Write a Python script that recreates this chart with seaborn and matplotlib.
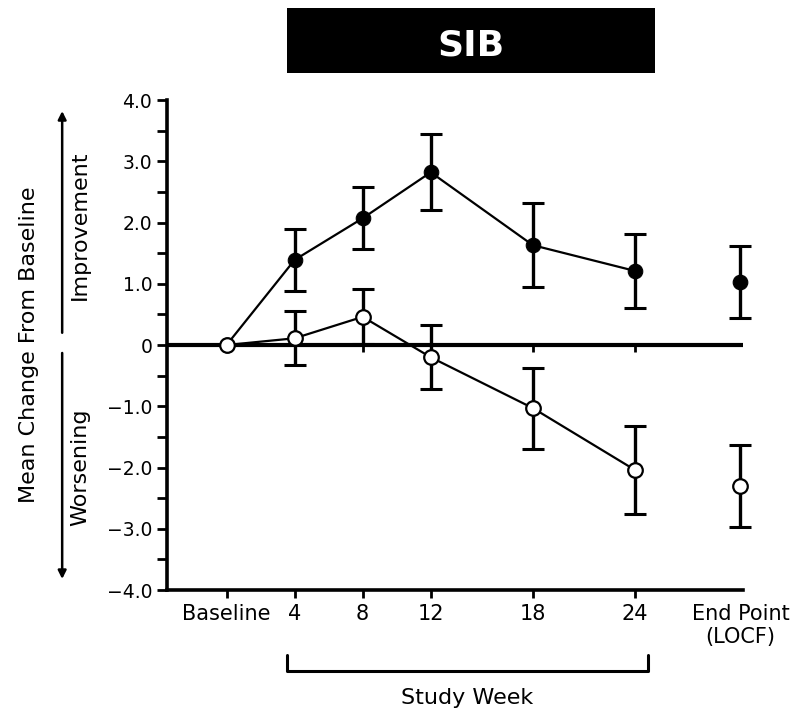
import matplotlib
matplotlib.use("Agg")
import matplotlib.pyplot as plt
import matplotlib.patches as mpatches
import matplotlib.transforms as mtransforms
import seaborn as sns
import pandas as pd

# ---- data -------------------------------------------------------------
weeks = [0, 4, 8, 12, 18, 24]
week_labels = ["Baseline", "4", "8", "12", "18", "24"]
endpoint_label = "End Point\n(LOCF)"

active_mean = [0.0, 1.39, 2.07, 2.82, 1.63, 1.21]
active_sem = [0.0, 0.51, 0.51, 0.62, 0.69, 0.60]
placebo_mean = [0.0, 0.11, 0.46, -0.20, -1.03, -2.04]
placebo_sem = [0.0, 0.44, 0.45, 0.52, 0.66, 0.72]

active_end_mean, active_end_sem = 1.03, 0.59
placebo_end_mean, placebo_end_sem = -2.30, 0.67

y_ticks = [4, 3, 2, 1, 0, -1, -2, -3, -4]
y_tick_labels = ["4.0", "3.0", "2.0", "1.0", "0", "\u22121.0", "\u22122.0", "\u22123.0", "\u22124.0"]

# ---- layout / style -----------------------------------------------------
endpoint_pos = 30.2
sns.set_theme(style="ticks")
plt.rcParams["font.family"] = ["DejaVu Sans"]

fig = plt.figure(figsize=(7.96, 7.13), dpi=100)
ax = fig.add_axes([0.2098, 0.1725, 0.7236, 0.6872])

df = pd.DataFrame({
    "week": weeks * 2,
    "mean": active_mean + placebo_mean,
    "sem": active_sem + placebo_sem,
    "group": ["active"] * len(weeks) + ["placebo"] * len(weeks),
})
act = df[df.group == "active"]
pla = df[df.group == "placebo"]

# error bars (baseline has none)
for part, end_m, end_s in [(act, active_end_mean, active_end_sem),
                           (pla, placebo_end_mean, placebo_end_sem)]:
    sub = part[part.week > 0]
    xs = list(sub.week) + [endpoint_pos]
    ys = list(sub["mean"]) + [end_m]
    es = list(sub["sem"]) + [end_s]
    eb = ax.errorbar(xs, ys, yerr=es, fmt="none", ecolor="black",
                     elinewidth=2.4, capsize=8, capthick=2.2, zorder=3)
    for artist in eb.get_children():
        artist.set_clip_on(False)

# connected series
sns.lineplot(data=act, x="week", y="mean", ax=ax, color="black", lw=1.6,
             marker="o", markersize=10.5, markerfacecolor="black",
             markeredgecolor="black", errorbar=None, zorder=5)
sns.lineplot(data=pla, x="week", y="mean", ax=ax, color="black", lw=1.6,
             marker="o", markersize=10.5, markerfacecolor="white",
             markeredgecolor="black", markeredgewidth=1.6,
             errorbar=None, zorder=6)

# end point (last observation carried forward), not connected
n_before = len(ax.collections)
sns.scatterplot(x=[endpoint_pos], y=[active_end_mean], ax=ax, s=110,
                color="black", edgecolor="black", zorder=5)
sns.scatterplot(x=[endpoint_pos], y=[placebo_end_mean], ax=ax, s=110,
                color="white", edgecolor="black", linewidth=1.6, zorder=6)
for coll in ax.collections[n_before:]:
    coll.set_clip_on(False)

# zero reference line with downward ticks at each visit
ax.axhline(0, color="black", lw=3, zorder=2)
ax.vlines(weeks, -0.12, 0, color="black", lw=2, zorder=2)

# axes
ax.set_xlim(-3.5, 30.35)
ax.set_ylim(-4, 4)
sns.despine(ax=ax)
for side in ("left", "bottom"):
    ax.spines[side].set_linewidth(2.6)
    ax.spines[side].set_color("black")

ax.set_yticks(y_ticks)
ax.set_yticklabels(y_tick_labels, fontsize=13.5)
ax.set_yticks([v + 0.5 for v in y_ticks[1:]], minor=True)
ax.tick_params(axis="y", which="both", length=7.2, width=2, color="black",
               pad=3.5, labelcolor="black")

ax.set_xticks(weeks + [endpoint_pos])
ax.set_xticklabels(week_labels + [endpoint_label], fontsize=15)
ax.tick_params(axis="x", length=6, width=2, color="black", pad=4,
               labelcolor="black")
ax.xaxis.get_major_ticks()[-1].tick1line.set_visible(False)

# y axis title with direction arrows
ax.set_ylabel("Mean Change From Baseline", fontsize=16, color="black")
ax.yaxis.set_label_coords(-0.222, 0.5)

blend = mtransforms.blended_transform_factory(ax.transAxes, ax.transData)
arrow_x = -0.182
for start, end in [(0.2, 3.82), (-0.13, -3.82)]:
    ax.annotate("", xy=(arrow_x, end), xytext=(arrow_x, start),
                xycoords=blend, textcoords=blend, annotation_clip=False,
                arrowprops=dict(arrowstyle="-|>", lw=1.8, color="black",
                                mutation_scale=12, shrinkA=0, shrinkB=0))
ax.text(-0.151, 1.96, "Improvement", transform=blend, rotation=90,
        ha="center", va="center", fontsize=16, color="black")
ax.text(-0.151, -2.0, "Worsening", transform=blend, rotation=90,
        ha="center", va="center", fontsize=16, color="black")

# study-week bracket under the visit labels
xblend = mtransforms.blended_transform_factory(ax.transData, ax.transAxes)
bx0, bx1 = weeks[1] - 0.47, weeks[-1] + 0.76
ax.plot([bx0, bx0, bx1, bx1], [-0.133, -0.165, -0.165, -0.133],
        transform=xblend, color="black", lw=2.2, clip_on=False)
ax.set_xlabel("Study Week", fontsize=16, color="black")
ax.xaxis.set_label_coords(0.521, -0.2204)
ax.xaxis.label.set_va("center")

# title banner
fig.patches.append(mpatches.Rectangle((287 / 796, 1 - 73 / 713), 368 / 796,
                                      65 / 713, transform=fig.transFigure,
                                      facecolor="black", edgecolor="none"))
fig.text(471 / 796, 1 - 55 / 713, "SIB", color="white", fontsize=26,
         fontweight="bold", ha="center", va="baseline")

fig.savefig("out.png", dpi=100, facecolor="white")
